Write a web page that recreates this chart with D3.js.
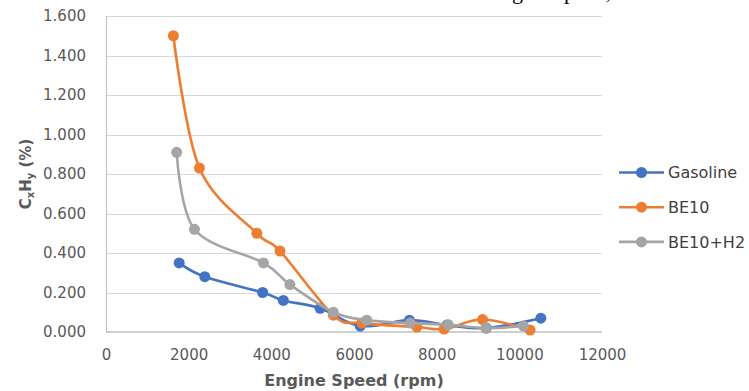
<!DOCTYPE html>
<html>
<head>
<meta charset="utf-8">
<script src="https://cdn.jsdelivr.net/npm/d3@7"></script>
<style>
  body { margin: 0; background: #fff; }
  svg { display: block; }
</style>
</head>
<body>
<div id="chart"></div>
<script>
// Series
var seriesNames = ['Gasoline', 'BE10', 'BE10+H2'];
var seriesColors = ['#4472C4', '#ED7D31', '#A5A5A5'];

var speedGasoline = [1770, 2390, 3790, 4290, 5180, 6150, 7340, 8250, 9200, 10520];
var hcGasoline    = [0.35, 0.28, 0.20, 0.16, 0.12, 0.03, 0.06, 0.035, 0.02, 0.07];

var speedBE10 = [1630, 2260, 3650, 4210, 5500, 6190, 7520, 8180, 9110, 10260];
var hcBE10    = [1.50, 0.83, 0.50, 0.41, 0.085, 0.045, 0.025, 0.015, 0.063, 0.01];

var speedH2 = [1710, 2140, 3810, 4450, 5500, 6310, 7360, 8280, 9190, 10100];
var hcH2    = [0.91, 0.52, 0.35, 0.24, 0.10, 0.06, 0.045, 0.037, 0.02, 0.03];

var xTicks = [0, 2000, 4000, 6000, 8000, 10000, 12000];
var yTicks = [0, 0.2, 0.4, 0.6, 0.8, 1.0, 1.2, 1.4, 1.6];

var width = 749, height = 391;
var plot = {left: 106, right: 602, top: 16, bottom: 332};

var series = [
    {name: seriesNames[0], color: seriesColors[0], x: speedGasoline, y: hcGasoline},
    {name: seriesNames[1], color: seriesColors[1], x: speedBE10, y: hcBE10},
    {name: seriesNames[2], color: seriesColors[2], x: speedH2, y: hcH2}
];

var svg = d3.select('#chart').append('svg')
    .attr('width', width)
    .attr('height', height);

svg.append('rect').attr('width', width).attr('height', height).attr('fill', '#fff');

// Caption of the page above, cut off at the top edge as in the source image
svg.append('text')
    .attr('x', 611)
    .attr('y', -1.5)
    .attr('text-anchor', 'end')
    .style('font-family', '"Liberation Serif", "Times New Roman", serif')
    .style('font-size', '22px')
    .attr('fill', '#000')
    .text('HC emission at different engine speed,');

var x = d3.scaleLinear().domain([0, 12000]).range([plot.left, plot.right]);
var y = d3.scaleLinear().domain([0, 1.6]).range([plot.bottom, plot.top]);

// Gridlines
svg.append('g')
    .selectAll('line')
    .data(yTicks.filter(function(d) { return d > 0; }))
    .enter().append('line')
    .attr('x1', plot.left).attr('x2', plot.right)
    .attr('y1', function(d) { return Math.round(y(d)) + 0.5; })
    .attr('y2', function(d) { return Math.round(y(d)) + 0.5; })
    .attr('stroke', '#d9d9d9')
    .attr('stroke-width', 1);

// Axis lines
svg.append('line')
    .attr('x1', plot.left + 0.5).attr('x2', plot.left + 0.5)
    .attr('y1', plot.top).attr('y2', plot.bottom)
    .attr('stroke', '#bfbfbf');
svg.append('line')
    .attr('x1', plot.left).attr('x2', plot.right)
    .attr('y1', plot.bottom).attr('y2', plot.bottom)
    .attr('stroke', '#bfbfbf')
    .attr('stroke-width', 1.5);

// Y axis labels
var yAxis = d3.axisLeft(y)
    .tickValues(yTicks)
    .tickFormat(d3.format('.3f'))
    .tickSize(0)
    .tickPadding(20);
var gy = svg.append('g')
    .attr('transform', 'translate(' + plot.left + ',0)')
    .call(yAxis);
gy.select('.domain').remove();
gy.selectAll('text')
    .style('font-family', '"DejaVu Sans", sans-serif')
    .style('font-size', '15px')
    .attr('fill', '#595959');

// X axis labels
var xAxis = d3.axisBottom(x)
    .tickValues(xTicks)
    .tickFormat(d3.format('d'))
    .tickSize(0)
    .tickPadding(17);
var gx = svg.append('g')
    .attr('transform', 'translate(0,' + plot.bottom + ')')
    .call(xAxis);
gx.select('.domain').remove();
gx.selectAll('text')
    .style('font-family', '"DejaVu Sans", sans-serif')
    .style('font-size', '15px')
    .attr('fill', '#595959');

// Axis titles
svg.append('text')
    .attr('x', (plot.left + plot.right) / 2)
    .attr('y', 386)
    .attr('text-anchor', 'middle')
    .style('font-family', '"DejaVu Sans", sans-serif')
    .style('font-size', '16px')
    .style('font-weight', 'bold')
    .attr('fill', '#595959')
    .text('Engine Speed (rpm)');

var yTitle = svg.append('text')
    .attr('transform', 'translate(31,' + ((plot.top + plot.bottom) / 2) + ') rotate(-90)')
    .attr('text-anchor', 'middle')
    .style('font-family', '"DejaVu Sans", sans-serif')
    .style('font-size', '15px')
    .style('font-weight', 'bold')
    .attr('fill', '#595959');
yTitle.append('tspan').text('C');
yTitle.append('tspan').attr('dy', 3).style('font-size', '10px').text('x');
yTitle.append('tspan').attr('dy', -3).text('H');
yTitle.append('tspan').attr('dy', 3).style('font-size', '10px').text('y');
yTitle.append('tspan').attr('dy', -3).text(' (%)');

// Lines, smoothed like the spreadsheet
var line = d3.line()
    .x(function(d) { return x(d[0]); })
    .y(function(d) { return y(d[1]); })
    .curve(d3.curveCatmullRom.alpha(0));

var gs = svg.append('g').selectAll('g')
    .data(series)
    .enter().append('g');

gs.append('path')
    .attr('d', function(s) { return line(d3.zip(s.x, s.y)); })
    .attr('fill', 'none')
    .attr('stroke', function(s) { return s.color; })
    .attr('stroke-width', 2.6)
    .attr('stroke-linejoin', 'round');

gs.selectAll('circle')
    .data(function(s) { return d3.zip(s.x, s.y).map(function(p) { return {p: p, color: s.color}; }); })
    .enter().append('circle')
    .attr('cx', function(d) { return x(d.p[0]); })
    .attr('cy', function(d) { return y(d.p[1]); })
    .attr('r', 5.5)
    .attr('fill', function(d) { return d.color; });

// Legend
var legend = svg.append('g').selectAll('g')
    .data(series)
    .enter().append('g')
    .attr('transform', function(d, i) { return 'translate(619,' + (172.5 + i * 34.7) + ')'; });

legend.append('line')
    .attr('x1', 0).attr('x2', 45)
    .attr('stroke', function(d) { return d.color; })
    .attr('stroke-width', 2.6);
legend.append('circle')
    .attr('cx', 22.5)
    .attr('r', 5.5)
    .attr('fill', function(d) { return d.color; });
legend.append('text')
    .attr('x', 49)
    .attr('dy', '0.36em')
    .style('font-family', '"DejaVu Sans", sans-serif')
    .style('font-size', '16px')
    .attr('fill', '#404040')
    .text(function(d) { return d.name; });
</script>
</body>
</html>
